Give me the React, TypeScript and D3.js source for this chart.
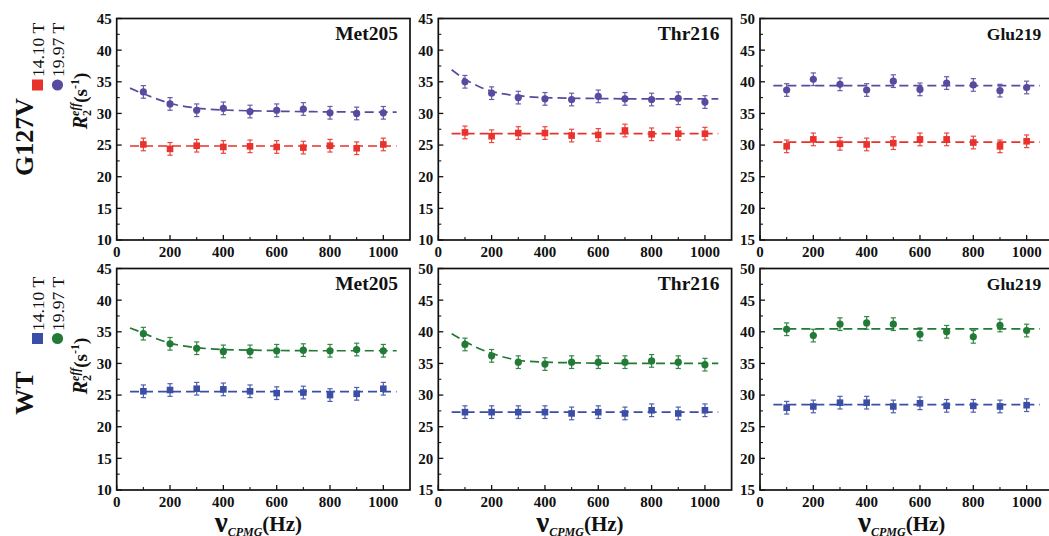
import React from 'react';
import * as d3 from 'd3';

// ---------- data ----------
const FREQ = [100, 200, 300, 400, 500, 600, 700, 800, 900, 1000];
const X_TICKS = [0, 200, 400, 600, 800, 1000];
const FIT_X = [50, 100, 150, 200, 300, 400, 600, 800, 1050];
const FLAT_X = [50, 1050];

// G127V
const g127vMet205_1410 = [25.1, 24.4, 24.9, 24.7, 24.8, 24.7, 24.6, 24.9, 24.5, 25.1];
const g127vMet205_1997 = [33.4, 31.5, 30.5, 30.8, 30.3, 30.5, 30.7, 30.1, 30.0, 30.1];
const g127vThr216_1410 = [27.0, 26.4, 26.9, 26.9, 26.5, 26.6, 27.3, 26.7, 26.8, 26.8];
const g127vThr216_1997 = [35.0, 33.2, 32.5, 32.3, 32.2, 32.7, 32.3, 32.2, 32.4, 31.8];
const g127vGlu219_1410 = [29.8, 30.9, 30.2, 30.1, 30.3, 30.9, 30.9, 30.4, 29.8, 30.6];
const g127vGlu219_1997 = [38.7, 40.4, 39.6, 38.7, 40.1, 38.8, 39.8, 39.5, 38.6, 39.1];
// WT
const wtMet205_1410 = [25.6, 25.8, 26.0, 25.9, 25.6, 25.3, 25.4, 25.0, 25.2, 26.0];
const wtMet205_1997 = [34.7, 33.1, 32.4, 31.9, 31.9, 32.0, 32.1, 32.0, 32.2, 32.0];
const wtThr216_1410 = [27.3, 27.3, 27.3, 27.3, 27.1, 27.3, 27.1, 27.6, 27.1, 27.6];
const wtThr216_1997 = [38.0, 36.2, 35.2, 34.9, 35.2, 35.2, 35.2, 35.4, 35.2, 34.8];
const wtGlu219_1410 = [28.0, 28.2, 28.8, 28.8, 28.2, 28.7, 28.3, 28.3, 28.2, 28.4];
const wtGlu219_1997 = [40.4, 39.4, 41.2, 41.4, 41.2, 39.6, 40.0, 39.2, 41.0, 40.2];

// error bars (s^-1)
const ERR = [1.0, 1.0, 1.0, 1.0, 1.0, 1.0, 1.0, 1.0, 1.0, 1.0];

// fitted curves
const fitG127vMet205_1997 = [34.0, 33.1, 32.3, 31.6, 30.85, 30.55, 30.35, 30.25, 30.2];
const fitG127vThr216_1997 = [36.9, 35.4, 34.3, 33.5, 32.8, 32.5, 32.35, 32.3, 32.3];
const fitWtMet205_1997 = [35.6, 34.8, 33.9, 33.2, 32.5, 32.2, 32.05, 32.0, 32.0];
const fitWtThr216_1997 = [39.7, 38.5, 37.4, 36.6, 35.5, 35.2, 35.05, 35.0, 35.0];
const fitG127vMet205_1410 = [24.85, 24.85];
const fitG127vThr216_1410 = [26.8, 26.8];
const fitG127vGlu219_1410 = [30.45, 30.45];
const fitG127vGlu219_1997 = [39.4, 39.4];
const fitWtMet205_1410 = [25.55, 25.55];
const fitWtThr216_1410 = [27.3, 27.3];
const fitWtGlu219_1410 = [28.5, 28.5];
const fitWtGlu219_1997 = [40.45, 40.45];

const RED = '#e8322b';
const PURPLE = '#5a4a9f';
const BLUE = '#3b4ea5';
const GREEN = '#217a35';

const Y_DOMAINS: [number, number][][] = [
  [[10, 45], [10, 45], [15, 50]],
  [[10, 45], [15, 50], [15, 50]],
];
const LABELS = [
  ['Met205', 'Thr216', 'Glu219'],
  ['Met205', 'Thr216', 'Glu219'],
];
const LABEL_SIZES = [19.5, 19.5, 17.5];

type Series = { v: number[]; fit: number[]; fitX: number[]; color: string; shape: 'sq' | 'ci' };

const SERIES: Series[][][] = [
  [
    [
      { v: g127vMet205_1997, fit: fitG127vMet205_1997, fitX: FIT_X, color: PURPLE, shape: 'ci' },
      { v: g127vMet205_1410, fit: fitG127vMet205_1410, fitX: FLAT_X, color: RED, shape: 'sq' },
    ],
    [
      { v: g127vThr216_1997, fit: fitG127vThr216_1997, fitX: FIT_X, color: PURPLE, shape: 'ci' },
      { v: g127vThr216_1410, fit: fitG127vThr216_1410, fitX: FLAT_X, color: RED, shape: 'sq' },
    ],
    [
      { v: g127vGlu219_1997, fit: fitG127vGlu219_1997, fitX: FLAT_X, color: PURPLE, shape: 'ci' },
      { v: g127vGlu219_1410, fit: fitG127vGlu219_1410, fitX: FLAT_X, color: RED, shape: 'sq' },
    ],
  ],
  [
    [
      { v: wtMet205_1997, fit: fitWtMet205_1997, fitX: FIT_X, color: GREEN, shape: 'ci' },
      { v: wtMet205_1410, fit: fitWtMet205_1410, fitX: FLAT_X, color: BLUE, shape: 'sq' },
    ],
    [
      { v: wtThr216_1997, fit: fitWtThr216_1997, fitX: FIT_X, color: GREEN, shape: 'ci' },
      { v: wtThr216_1410, fit: fitWtThr216_1410, fitX: FLAT_X, color: BLUE, shape: 'sq' },
    ],
    [
      { v: wtGlu219_1997, fit: fitWtGlu219_1997, fitX: FLAT_X, color: GREEN, shape: 'ci' },
      { v: wtGlu219_1410, fit: fitWtGlu219_1410, fitX: FLAT_X, color: BLUE, shape: 'sq' },
    ],
  ],
];

// ---------- layout ----------
const W = 1049;
const H = 536;
const COL_LEFT = [116.7, 438.3, 760];
const ROW_TOP = [18.5, 268.5];
const PW = 293.3;
const PH = 221.5;
const FONT = "'Liberation Serif', 'Times New Roman', serif";

function Panel({ r, c }: { r: number; c: number }) {
  const left = COL_LEFT[c];
  const top = ROW_TOP[r];
  const x = d3.scaleLinear().domain([0, 1100]).range([left, left + PW]);
  const y = d3.scaleLinear().domain(Y_DOMAINS[r][c]).range([top + PH, top]);
  const [y0, y1] = Y_DOMAINS[r][c];
  const majorY = d3.range(y0, y1 + 0.01, 5);
  const minorY = d3.range(y0 + 2.5, y1, 5);
  const minorX = d3.range(100, 1100, 200);
  const line = d3
    .line<[number, number]>()
    .x((d) => x(d[0]))
    .y((d) => y(d[1]))
    .curve(d3.curveMonotoneX);
  const series = SERIES[r][c];
  return (
    <g>
      {series.map((s, i) => (
        <path
          key={'f' + i}
          d={line(s.fitX.map((fx, j) => [fx, s.fit[j]] as [number, number])) || ''}
          fill="none"
          stroke={s.color}
          strokeWidth={1.7}
          strokeDasharray="9,5"
        />
      ))}
      {series.map((s, i) => (
        <g key={'e' + i} stroke={s.color} strokeWidth={1.2} opacity={0.9}>
          {s.v.map((v, j) => {
            const cx = x(FREQ[j]);
            const ya = y(v + ERR[j]);
            const yb = y(v - ERR[j]);
            return (
              <g key={j}>
                <line x1={cx} x2={cx} y1={ya} y2={yb} />
                <line x1={cx - 2.6} x2={cx + 2.6} y1={ya} y2={ya} />
                <line x1={cx - 2.6} x2={cx + 2.6} y1={yb} y2={yb} />
              </g>
            );
          })}
        </g>
      ))}
      {series.map((s, i) => (
        <g key={'m' + i} fill={s.color}>
          {s.v.map((v, j) =>
            s.shape === 'ci' ? (
              <circle key={j} cx={x(FREQ[j])} cy={y(v)} r={3.6} />
            ) : (
              <rect key={j} x={x(FREQ[j]) - 3.3} y={y(v) - 3.3} width={6.6} height={6.6} />
            )
          )}
        </g>
      ))}
      {/* frame */}
      <rect x={left} y={top} width={PW} height={PH} fill="none" stroke="#111" strokeWidth={1.7} />
      {/* y ticks */}
      {majorY.map((t) => (
        <g key={'yt' + t}>
          <line x1={left} x2={left + 5} y1={y(t)} y2={y(t)} stroke="#111" strokeWidth={1.3} />
          <text
            x={left - 5}
            y={y(t)}
            dy="0.36em"
            textAnchor="end"
            fontFamily={FONT}
            fontWeight="bold"
            fontSize={15}
            fill="#111"
          >
            {t}
          </text>
        </g>
      ))}
      {minorY.map((t) => (
        <line key={'ym' + t} x1={left} x2={left + 3} y1={y(t)} y2={y(t)} stroke="#111" strokeWidth={1.1} />
      ))}
      {/* x ticks */}
      {X_TICKS.map((t) => (
        <g key={'xt' + t}>
          <line x1={x(t)} x2={x(t)} y1={top + PH} y2={top + PH - 5} stroke="#111" strokeWidth={1.3} />
          <text
            x={x(t)}
            y={top + PH + 17}
            textAnchor="middle"
            fontFamily={FONT}
            fontWeight="bold"
            fontSize={15}
            fill="#111"
          >
            {t}
          </text>
        </g>
      ))}
      {minorX.map((t) => (
        <line key={'xm' + t} x1={x(t)} x2={x(t)} y1={top + PH} y2={top + PH - 3} stroke="#111" strokeWidth={1.1} />
      ))}
      <text
        x={left + PW - 12}
        y={top + 21}
        textAnchor="end"
        fontFamily={FONT}
        fontWeight="bold"
        fontSize={LABEL_SIZES[c]}
        fill="#111"
      >
        {LABELS[r][c]}
      </text>
      {r === 1 && (
        <text
          x={left + PW / 2 - 5}
          y={top + PH + 42}
          textAnchor="middle"
          fontFamily={FONT}
          fontWeight="bold"
          fill="#111"
        >
          <tspan fontSize={29}>ν</tspan>
          <tspan fontSize={12} fontStyle="italic" dy={4}>
            CPMG
          </tspan>
          <tspan fontSize={21} dy={-5}>
            (Hz)
          </tspan>
        </text>
      )}
    </g>
  );
}

function RowLabels({ r }: { r: number }) {
  const name = r === 0 ? 'G127V' : 'WT';
  const nameY = r === 0 ? 137 : 393;
  const legY = r === 0 ? 85 : 338.5;
  const textY = r === 0 ? 77 : 331;
  const titleY = r === 0 ? 101 : 366;
  const sqColor = r === 0 ? RED : BLUE;
  const ciColor = r === 0 ? PURPLE : GREEN;
  return (
    <g fontFamily={FONT} fill="#111">
      <text transform={`translate(33,${nameY}) rotate(-90)`} textAnchor="middle" fontWeight="bold" fontSize={26}>
        {name}
      </text>
      <rect x={32} y={legY - 5.5} width={11} height={11} fill={sqColor} />
      <circle cx={57.5} cy={legY} r={5.6} fill={ciColor} />
      <text transform={`translate(43.5,${textY}) rotate(-90)`} fontSize={17.5}>
        14.10 T
      </text>
      <text transform={`translate(63.5,${textY}) rotate(-90)`} fontSize={17.5}>
        19.97 T
      </text>
      <text transform={`translate(87,${titleY}) rotate(-90)`} textAnchor="middle" fontWeight="bold">
        <tspan fontSize={20} fontStyle="italic">
          R
        </tspan>
        <tspan fontSize={12} dy={4}>
          2
        </tspan>
        <tspan fontSize={12} fontStyle="italic" dx={-6} dy={-12}>
          eff
        </tspan>
        <tspan fontSize={19} dy={8}>
          (s
        </tspan>
        <tspan fontSize={12} dy={-8}>
          -1
        </tspan>
        <tspan fontSize={19} dy={8}>
          )
        </tspan>
      </text>
    </g>
  );
}

export default function App() {
  return (
    <div style={{ position: 'fixed', left: 0, top: 0, width: W, height: H, background: '#fff' }}>
      <svg width={W} height={H} viewBox={`0 0 ${W} ${H}`} style={{ display: 'block' }}>
        <rect width={W} height={H} fill="#fff" />
        {[0, 1].map((r) => (
          <g key={r}>
            <RowLabels r={r} />
            {[0, 1, 2].map((c) => (
              <Panel key={c} r={r} c={c} />
            ))}
          </g>
        ))}
      </svg>
    </div>
  );
}
